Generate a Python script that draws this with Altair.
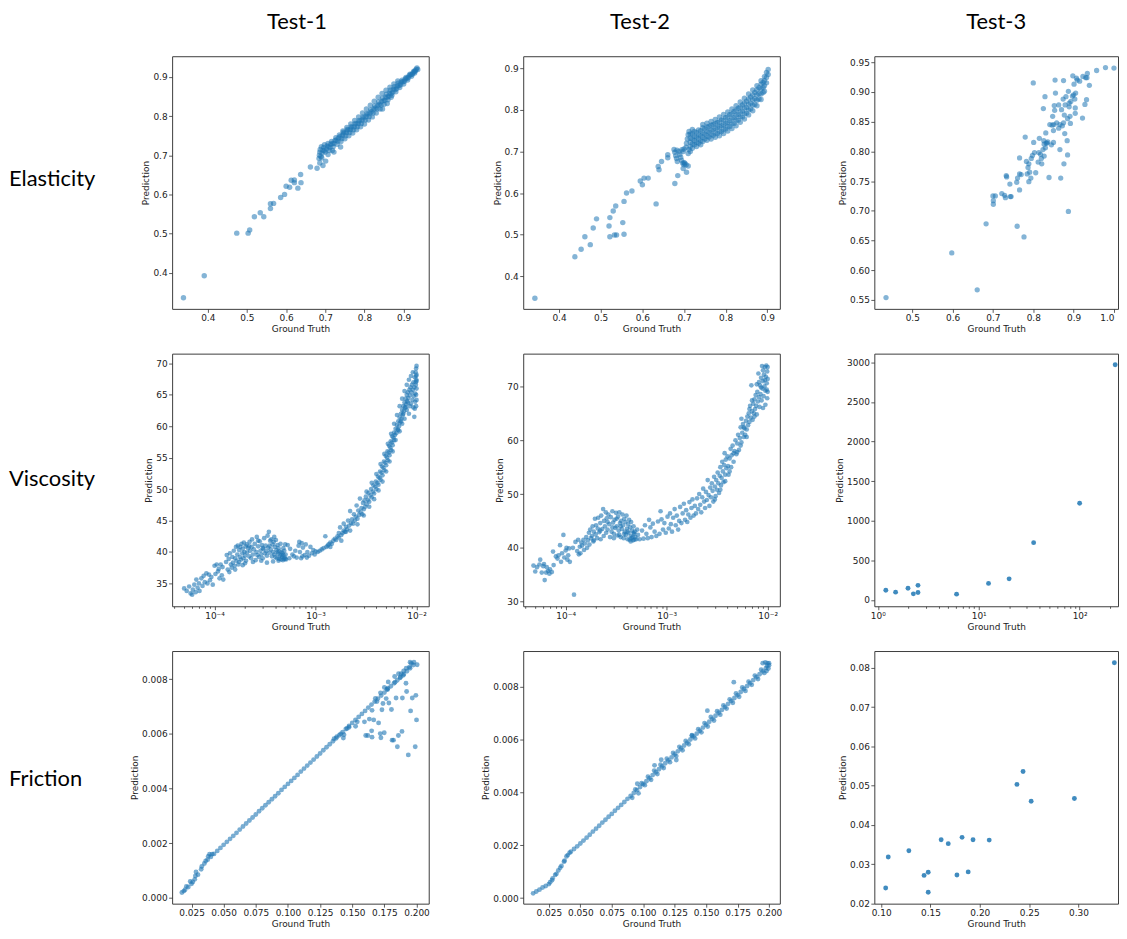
import altair as alt
import pandas as pd

COLUMN_TITLES = ["Test-1", "Test-2", "Test-3"]
ROW_TITLES = ["Elasticity", "Viscosity", "Friction"]
X_TITLE = "Ground Truth"
Y_TITLE = "Prediction"

# ---------------- Elasticity ----------------
ELASTICITY_TEST1 = [
    (0.338, 0.336), (0.391, 0.392), (0.474, 0.501), (0.503, 0.501), (0.507, 0.509), (0.519, 0.543),
    (0.534, 0.553), (0.543, 0.543), (0.560, 0.564), (0.560, 0.576), (0.568, 0.577), (0.586, 0.592),
    (0.596, 0.600), (0.600, 0.621), (0.609, 0.618), (0.613, 0.636), (0.621, 0.637), (0.621, 0.630),
    (0.630, 0.616), (0.637, 0.651), (0.638, 0.630), (0.662, 0.670), (0.679, 0.667), (0.686, 0.680),
    (0.694, 0.674), (0.701, 0.685), (0.707, 0.702), (0.718, 0.712), (0.722, 0.708), (0.739, 0.721),
    (0.691, 0.693),
    (0.684, 0.692), (0.685, 0.700), (0.686, 0.708), (0.687, 0.715), (0.690, 0.722), (0.689, 0.697),
    (0.692, 0.705), (0.694, 0.712), (0.696, 0.720), (0.698, 0.727), (0.700, 0.708), (0.703, 0.716),
    (0.705, 0.724), (0.707, 0.730), (0.710, 0.712), (0.712, 0.720), (0.714, 0.728), (0.716, 0.735),
    (0.720, 0.722), (0.722, 0.730), (0.725, 0.738), (0.727, 0.745), (0.730, 0.728), (0.732, 0.736),
    (0.734, 0.744), (0.736, 0.752), (0.740, 0.735), (0.742, 0.743), (0.744, 0.751), (0.746, 0.759),
    (0.750, 0.742), (0.752, 0.750), (0.754, 0.758), (0.756, 0.766), (0.760, 0.750), (0.762, 0.758),
    (0.764, 0.766), (0.766, 0.773), (0.770, 0.757), (0.772, 0.765), (0.774, 0.773), (0.776, 0.781),
    (0.780, 0.765), (0.782, 0.773), (0.784, 0.781), (0.786, 0.789), (0.790, 0.773), (0.792, 0.781),
    (0.794, 0.790), (0.796, 0.798), (0.800, 0.780), (0.802, 0.790), (0.804, 0.799), (0.806, 0.807),
    (0.810, 0.790), (0.812, 0.799), (0.814, 0.808), (0.816, 0.816), (0.820, 0.798), (0.822, 0.808),
    (0.824, 0.818), (0.826, 0.826), (0.830, 0.808), (0.832, 0.818), (0.834, 0.828), (0.836, 0.836),
    (0.840, 0.818), (0.842, 0.828), (0.844, 0.838), (0.846, 0.846), (0.850, 0.830), (0.852, 0.840),
    (0.854, 0.849), (0.856, 0.856), (0.860, 0.842), (0.862, 0.851), (0.864, 0.859), (0.866, 0.866),
    (0.870, 0.853), (0.872, 0.861), (0.874, 0.869), (0.876, 0.875), (0.880, 0.862), (0.882, 0.870),
    (0.884, 0.877), (0.886, 0.884), (0.890, 0.873), (0.892, 0.880), (0.894, 0.887), (0.896, 0.892),
    (0.900, 0.882), (0.902, 0.889), (0.904, 0.895), (0.906, 0.899), (0.910, 0.892), (0.912, 0.898),
    (0.914, 0.903), (0.916, 0.907), (0.920, 0.902), (0.922, 0.907), (0.924, 0.911), (0.926, 0.915),
    (0.928, 0.910), (0.930, 0.916), (0.932, 0.920), (0.934, 0.923), (0.936, 0.919),
    (0.745, 0.762), (0.755, 0.771), (0.765, 0.780), (0.775, 0.789), (0.785, 0.798), (0.795, 0.808),
    (0.805, 0.818), (0.815, 0.828), (0.825, 0.838), (0.835, 0.848), (0.845, 0.858), (0.855, 0.866),
    (0.865, 0.874), (0.875, 0.882), (0.885, 0.890), (0.846, 0.818), (0.858, 0.832), (0.868, 0.848),
    (0.698, 0.712), (0.708, 0.722), (0.718, 0.730), (0.728, 0.739), (0.738, 0.748), (0.748, 0.756),
    (0.758, 0.764), (0.768, 0.771), (0.778, 0.779), (0.788, 0.787), (0.798, 0.795), (0.808, 0.804),
    (0.818, 0.812), (0.828, 0.821), (0.838, 0.830), (0.848, 0.839), (0.858, 0.848), (0.868, 0.858),
    (0.878, 0.868), (0.888, 0.878), (0.898, 0.888), (0.908, 0.897), (0.918, 0.906), (0.928, 0.914),
]

ELASTICITY_TEST2 = [
    (0.342, 0.347), (0.438, 0.447), (0.453, 0.465), (0.462, 0.495), (0.475, 0.476), (0.482, 0.516),
    (0.490, 0.538), (0.520, 0.521), (0.522, 0.541), (0.522, 0.495), (0.530, 0.557), (0.533, 0.499),
    (0.538, 0.499), (0.536, 0.569), (0.553, 0.529), (0.556, 0.580), (0.556, 0.501), (0.562, 0.600),
    (0.575, 0.605), (0.595, 0.629), (0.600, 0.620), (0.604, 0.636), (0.614, 0.636), (0.633, 0.574),
    (0.638, 0.664), (0.640, 0.656), (0.646, 0.676), (0.661, 0.685), (0.661, 0.692), (0.678, 0.623),
    (0.685, 0.642), (0.698, 0.659), (0.706, 0.650), (0.710, 0.665), (0.700, 0.673),
    (0.676, 0.705), (0.678, 0.698), (0.680, 0.690), (0.682, 0.683), (0.684, 0.676), (0.688, 0.700),
    (0.690, 0.693), (0.692, 0.686), (0.694, 0.679), (0.697, 0.672), (0.700, 0.668), (0.702, 0.672),
    (0.705, 0.668), (0.698, 0.700), (0.700, 0.706), (0.683, 0.703), (0.695, 0.704),
    (0.705, 0.710), (0.706, 0.720), (0.708, 0.730), (0.710, 0.740), (0.712, 0.748), (0.720, 0.753),
    (0.712, 0.705), (0.720, 0.708), (0.730, 0.712), (0.740, 0.716), (0.710, 0.695), (0.715, 0.700),
    (0.715, 0.712), (0.715, 0.722), (0.715, 0.732), (0.715, 0.742),
    (0.725, 0.716), (0.725, 0.726), (0.725, 0.736), (0.725, 0.748),
    (0.735, 0.720), (0.735, 0.730), (0.735, 0.740), (0.735, 0.752),
    (0.745, 0.724), (0.745, 0.734), (0.745, 0.745), (0.745, 0.757), (0.745, 0.765),
    (0.755, 0.727), (0.755, 0.737), (0.755, 0.748), (0.755, 0.759), (0.755, 0.768),
    (0.765, 0.730), (0.765, 0.741), (0.765, 0.752), (0.765, 0.763), (0.765, 0.772),
    (0.775, 0.734), (0.775, 0.745), (0.775, 0.756), (0.775, 0.767), (0.775, 0.777),
    (0.785, 0.738), (0.785, 0.749), (0.785, 0.760), (0.785, 0.771), (0.785, 0.783),
    (0.795, 0.743), (0.795, 0.754), (0.795, 0.765), (0.795, 0.776), (0.795, 0.789),
    (0.805, 0.749), (0.805, 0.760), (0.805, 0.771), (0.805, 0.783), (0.805, 0.795),
    (0.815, 0.755), (0.815, 0.767), (0.815, 0.779), (0.815, 0.791), (0.815, 0.802),
    (0.825, 0.762), (0.825, 0.775), (0.825, 0.787), (0.825, 0.799), (0.825, 0.810),
    (0.835, 0.770), (0.835, 0.783), (0.835, 0.795), (0.835, 0.807), (0.835, 0.819),
    (0.845, 0.778), (0.845, 0.791), (0.845, 0.804), (0.845, 0.816), (0.845, 0.828),
    (0.855, 0.788), (0.855, 0.800), (0.855, 0.813), (0.855, 0.826), (0.855, 0.838),
    (0.865, 0.798), (0.865, 0.811), (0.865, 0.824), (0.865, 0.836), (0.865, 0.848),
    (0.875, 0.810), (0.875, 0.823), (0.875, 0.836), (0.875, 0.848), (0.875, 0.858),
    (0.885, 0.825), (0.885, 0.838), (0.885, 0.850), (0.885, 0.862), (0.885, 0.870),
    (0.893, 0.845), (0.893, 0.858), (0.893, 0.870), (0.893, 0.880),
    (0.898, 0.865), (0.898, 0.878), (0.898, 0.890), (0.902, 0.885), (0.902, 0.897),
    (0.720, 0.718), (0.730, 0.722), (0.740, 0.726), (0.750, 0.730), (0.760, 0.735), (0.770, 0.739),
    (0.780, 0.743), (0.790, 0.748), (0.800, 0.754), (0.810, 0.760), (0.820, 0.767), (0.830, 0.775),
    (0.840, 0.783), (0.850, 0.792), (0.860, 0.802), (0.870, 0.813), (0.880, 0.826), (0.890, 0.842),
    (0.720, 0.742), (0.730, 0.746), (0.740, 0.750), (0.750, 0.755), (0.760, 0.760), (0.770, 0.765),
    (0.780, 0.770), (0.790, 0.776), (0.800, 0.782), (0.810, 0.789), (0.820, 0.796), (0.830, 0.804),
    (0.840, 0.812), (0.850, 0.821), (0.860, 0.831), (0.870, 0.842), (0.880, 0.853), (0.890, 0.866),
    (0.720, 0.730), (0.730, 0.734), (0.740, 0.738), (0.750, 0.742), (0.760, 0.747), (0.770, 0.752),
    (0.780, 0.757), (0.790, 0.762), (0.800, 0.768), (0.810, 0.774), (0.820, 0.781), (0.830, 0.789),
    (0.840, 0.797), (0.850, 0.806), (0.860, 0.816), (0.870, 0.827), (0.880, 0.839), (0.890, 0.854),
]

ELASTICITY_TEST3 = [
    (0.435, 0.554), (0.598, 0.629), (0.661, 0.567), (0.683, 0.678), (0.700, 0.725), (0.701, 0.717),
    (0.701, 0.711), (0.706, 0.725), (0.722, 0.729), (0.729, 0.726), (0.731, 0.722), (0.733, 0.759),
    (0.734, 0.757), (0.742, 0.745), (0.743, 0.724), (0.745, 0.724), (0.759, 0.748), (0.760, 0.674),
    (0.761, 0.755), (0.766, 0.762), (0.766, 0.789), (0.766, 0.735), (0.770, 0.761), (0.777, 0.656),
    (0.780, 0.824), (0.783, 0.783), (0.785, 0.762), (0.787, 0.773), (0.789, 0.749), (0.789, 0.779),
    (0.791, 0.765), (0.794, 0.755), (0.795, 0.788), (0.798, 0.793), (0.800, 0.915), (0.801, 0.815),
    (0.803, 0.798), (0.806, 0.764), (0.812, 0.782), (0.814, 0.798), (0.815, 0.822), (0.818, 0.795),
    (0.820, 0.788), (0.821, 0.779), (0.824, 0.803), (0.825, 0.872), (0.826, 0.818), (0.827, 0.812),
    (0.827, 0.792), (0.829, 0.892), (0.830, 0.806), (0.831, 0.831), (0.832, 0.814), (0.834, 0.814),
    (0.836, 0.816), (0.839, 0.756), (0.841, 0.845), (0.845, 0.811), (0.847, 0.844), (0.848, 0.859),
    (0.850, 0.815), (0.850, 0.835), (0.851, 0.845), (0.852, 0.877), (0.853, 0.869), (0.854, 0.920),
    (0.855, 0.898), (0.858, 0.848), (0.863, 0.878), (0.863, 0.839), (0.866, 0.845), (0.866, 0.803),
    (0.868, 0.755), (0.870, 0.870), (0.872, 0.843), (0.874, 0.888), (0.875, 0.919), (0.875, 0.848),
    (0.876, 0.779), (0.877, 0.861), (0.878, 0.830), (0.879, 0.878), (0.881, 0.892), (0.884, 0.818),
    (0.885, 0.855), (0.885, 0.794), (0.887, 0.901), (0.887, 0.699), (0.889, 0.875), (0.889, 0.881),
    (0.892, 0.847), (0.891, 0.859), (0.893, 0.884), (0.897, 0.893), (0.898, 0.927), (0.900, 0.895),
    (0.901, 0.913), (0.903, 0.888), (0.904, 0.864), (0.904, 0.873), (0.905, 0.898), (0.907, 0.923),
    (0.909, 0.920), (0.915, 0.918), (0.922, 0.856), (0.923, 0.926), (0.928, 0.879), (0.930, 0.924),
    (0.932, 0.887), (0.933, 0.924), (0.934, 0.931), (0.939, 0.911), (0.957, 0.936), (0.979, 0.941),
    (1.000, 0.940),
]

# ---------------- Viscosity ----------------
VISCOSITY_TEST1 = [
    (5.0e-5, 34.2), (5.3e-5, 33.8), (5.6e-5, 34.5), (5.8e-5, 33.4), (6.0e-5, 33.2), (6.1e-5, 34.0),
    (6.3e-5, 34.8), (6.5e-5, 33.6), (6.6e-5, 35.6), (6.8e-5, 34.3), (7.0e-5, 35.0), (7.1e-5, 33.8),
    (7.4e-5, 35.8), (7.6e-5, 34.6), (7.8e-5, 36.2), (8.0e-5, 35.2), (8.3e-5, 36.6), (8.5e-5, 35.0),
    (8.8e-5, 36.4), (9.0e-5, 35.5), (9.3e-5, 36.0), (9.6e-5, 34.8), (1.0e-4, 37.8), (1.02e-4, 36.5),
    (1.05e-4, 38.0), (1.08e-4, 36.9), (1.1e-4, 37.3), (1.12e-4, 35.8), (1.15e-4, 38.0), (1.18e-4, 36.3),
    (1.2e-4, 37.6), (1.22e-4, 35.6),
    (1.3e-4, 38.4), (1.32e-4, 39.5), (1.35e-4, 37.2), (1.38e-4, 38.9), (1.4e-4, 36.8), (1.42e-4, 39.8),
    (1.45e-4, 38.0), (1.48e-4, 37.5), (1.5e-4, 39.2), (1.52e-4, 38.3), (1.55e-4, 40.2), (1.58e-4, 37.8),
    (1.6e-4, 39.0), (1.63e-4, 40.8), (1.65e-4, 38.6), (1.68e-4, 39.6), (1.7e-4, 41.0), (1.72e-4, 38.0),
    (1.75e-4, 40.3), (1.78e-4, 39.2), (1.8e-4, 40.8), (1.83e-4, 38.8), (1.85e-4, 41.3), (1.88e-4, 39.8),
    (1.9e-4, 40.5), (1.93e-4, 39.0), (1.95e-4, 41.5), (1.98e-4, 40.0), (2.0e-4, 39.4), (2.03e-4, 40.9),
    (2.05e-4, 38.6), (2.08e-4, 41.2), (2.1e-4, 39.9), (2.15e-4, 40.6), (2.2e-4, 39.3), (2.22e-4, 41.6),
    (2.25e-4, 40.2), (2.3e-4, 39.0), (2.33e-4, 40.8), (2.35e-4, 42.0), (2.4e-4, 39.6), (2.45e-4, 40.4),
    (2.5e-4, 41.3), (2.55e-4, 38.7), (2.6e-4, 40.0), (2.62e-4, 42.4), (2.65e-4, 39.5), (2.7e-4, 40.9),
    (2.75e-4, 39.2), (2.8e-4, 41.7), (2.85e-4, 40.2), (2.9e-4, 39.6), (2.95e-4, 41.1), (3.0e-4, 39.0),
    (3.05e-4, 40.5), (3.1e-4, 42.2), (3.15e-4, 39.8), (3.2e-4, 41.0), (3.25e-4, 40.1), (3.3e-4, 39.4),
    (3.35e-4, 42.6), (3.4e-4, 40.7), (3.45e-4, 43.2), (3.5e-4, 39.9), (3.55e-4, 41.8), (3.6e-4, 40.4),
    (3.65e-4, 42.0), (3.7e-4, 39.3), (3.75e-4, 41.2), (3.8e-4, 40.0), (3.85e-4, 41.6), (3.9e-4, 39.6),
    (3.95e-4, 40.8), (4.0e-4, 39.2), (4.05e-4, 41.9), (4.1e-4, 40.3), (4.15e-4, 39.0), (4.2e-4, 41.1),
    (4.25e-4, 39.7), (4.3e-4, 40.6), (4.35e-4, 38.9), (4.4e-4, 40.1), (4.45e-4, 39.4), (4.5e-4, 41.3),
    (4.55e-4, 38.8), (4.6e-4, 40.0), (4.65e-4, 39.2), (4.7e-4, 39.8), (4.75e-4, 38.7), (4.8e-4, 39.5),
    (4.85e-4, 38.9), (4.9e-4, 40.2), (4.95e-4, 39.1), (5.0e-4, 41.2), (5.05e-4, 39.6), (5.1e-4, 38.8),
    (2.0e-4, 38.2), (2.4e-4, 38.4), (2.9e-4, 38.6), (3.3e-4, 38.3), (3.8e-4, 38.5), (4.3e-4, 38.6),
    (1.6e-4, 37.2), (1.75e-4, 38.4), (1.9e-4, 37.9), (2.2e-4, 40.9), (2.7e-4, 41.8), (3.0e-4, 40.6),
    (3.5e-4, 41.0), (3.9e-4, 42.4), (4.2e-4, 40.0), (4.6e-4, 39.5), (4.8e-4, 40.6), (5.0e-4, 38.9),
    (5.3e-4, 41.1), (5.6e-4, 40.5), (5.9e-4, 39.6), (6.1e-4, 39.3), (6.5e-4, 39.1), (6.8e-4, 41.0),
    (7.0e-4, 40.0), (7.2e-4, 39.0), (7.5e-4, 40.7), (7.8e-4, 39.5), (8.0e-4, 41.2), (8.3e-4, 40.0),
    (8.6e-4, 39.4), (8.9e-4, 40.8), (9.2e-4, 39.8), (9.5e-4, 40.3), (9.8e-4, 39.6), (5.5e-4, 39.0),
    (6.3e-4, 40.2), (7.4e-4, 39.3), (8.2e-4, 39.1), (6.9e-4, 41.6), (7.3e-4, 41.4),
    (1.0e-3, 40.1), (1.05e-3, 40.0), (1.1e-3, 40.2), (1.15e-3, 40.4), (1.2e-3, 40.6), (1.25e-3, 42.5),
    (1.28e-3, 40.8), (1.32e-3, 41.0), (1.35e-3, 41.2), (1.4e-3, 41.5), (1.45e-3, 41.3), (1.5e-3, 41.8),
    (1.55e-3, 42.1), (1.6e-3, 41.9), (1.65e-3, 42.5), (1.7e-3, 42.3), (1.75e-3, 43.9), (1.8e-3, 42.7),
    (1.85e-3, 43.0), (1.9e-3, 43.4), (1.95e-3, 43.2), (2.0e-3, 44.0), (2.05e-3, 43.6), (2.1e-3, 45.0),
    (2.15e-3, 44.2), (2.2e-3, 46.5), (2.25e-3, 44.6), (1.7e-3, 43.0), (1.9e-3, 44.5), (2.0e-3, 43.2),
    (2.3e-3, 45.2), (2.35e-3, 44.5), (2.4e-3, 46.0), (2.45e-3, 45.0), (2.5e-3, 45.6), (2.55e-3, 47.4),
    (2.6e-3, 45.3), (2.65e-3, 46.6), (2.7e-3, 45.9), (2.75e-3, 48.5), (2.8e-3, 46.3), (2.85e-3, 47.0),
    (2.9e-3, 46.0), (2.95e-3, 47.8), (3.0e-3, 46.8), (3.05e-3, 48.2), (3.1e-3, 47.2), (3.15e-3, 48.8),
    (3.2e-3, 47.6), (3.3e-3, 48.3), (3.35e-3, 49.4), (3.4e-3, 48.0), (3.5e-3, 49.0), (3.55e-3, 50.0),
    (3.6e-3, 48.7), (3.7e-3, 49.6), (3.75e-3, 50.6), (3.8e-3, 49.3), (3.9e-3, 50.4), (3.95e-3, 51.2),
    (4.0e-3, 50.0), (4.1e-3, 51.0), (4.15e-3, 52.0), (4.2e-3, 50.7), (4.3e-3, 51.8), (4.35e-3, 52.8),
    (4.4e-3, 51.5), (4.5e-3, 52.6), (4.55e-3, 53.6), (4.6e-3, 52.2), (4.7e-3, 53.4), (4.75e-3, 54.4),
    (4.8e-3, 53.0), (4.9e-3, 54.2), (4.95e-3, 55.3), (5.0e-3, 53.8), (5.1e-3, 55.0), (5.15e-3, 56.0),
    (5.2e-3, 54.6), (5.3e-3, 55.8), (5.35e-3, 56.9), (5.4e-3, 55.4), (5.5e-3, 56.6), (5.55e-3, 57.6),
    (5.6e-3, 56.2), (5.7e-3, 57.4), (5.75e-3, 58.4), (5.8e-3, 57.0), (5.9e-3, 58.2), (6.0e-3, 57.8),
    (6.0e-3, 59.0), (6.1e-3, 58.6), (6.2e-3, 59.6), (6.3e-3, 58.9), (6.4e-3, 60.2), (6.5e-3, 59.5),
    (6.6e-3, 60.8), (6.7e-3, 60.0), (6.8e-3, 61.4), (6.9e-3, 60.6), (7.0e-3, 62.0), (7.1e-3, 61.2),
    (7.2e-3, 62.6), (7.3e-3, 61.8), (7.4e-3, 63.2), (7.5e-3, 62.4), (7.6e-3, 63.8), (7.7e-3, 63.0),
    (7.8e-3, 64.4), (7.9e-3, 63.5), (8.0e-3, 65.0), (8.1e-3, 64.0), (8.2e-3, 65.4), (8.3e-3, 64.5),
    (8.4e-3, 62.0), (8.5e-3, 65.8), (8.6e-3, 64.9), (8.7e-3, 66.2), (8.8e-3, 63.6), (8.9e-3, 65.4),
    (9.0e-3, 66.6), (9.1e-3, 64.2), (9.2e-3, 65.8), (9.3e-3, 67.0), (9.4e-3, 64.8), (9.5e-3, 66.2),
    (9.6e-3, 67.8), (9.7e-3, 65.2), (9.8e-3, 68.6), (9.85e-3, 66.6), (9.9e-3, 69.2), (9.95e-3, 67.4),
    (1.0e-2, 69.6), (1.0e-2, 68.2), (1.0e-2, 66.0), (9.9e-3, 63.2), (9.6e-3, 62.8), (7.6e-3, 61.2),
    (8.0e-3, 62.6), (6.8e-3, 59.2), (7.2e-3, 60.4), (9.5e-3, 61.5), (9.7e-3, 63.9), (9.9e-3, 65.0),
    (1.0e-2, 64.2), (9.3e-3, 63.0), (9.8e-3, 67.0), (1.0e-2, 67.2), (9.9e-3, 68.0),
    (3.0e-3, 45.8), (3.4e-3, 47.2), (3.8e-3, 48.4), (4.2e-3, 49.8), (4.6e-3, 51.2), (5.0e-3, 52.8),
    (5.4e-3, 54.4), (5.8e-3, 56.0), (6.2e-3, 57.8), (6.6e-3, 59.4), (7.0e-3, 60.8), (7.4e-3, 62.0),
    (7.8e-3, 63.0), (8.2e-3, 63.8), (8.6e-3, 63.2), (2.6e-3, 44.4), (2.2e-3, 43.4), (1.8e-3, 41.8),
    (1.4e-3, 40.8), (3.2e-3, 49.6), (3.6e-3, 51.0), (4.0e-3, 52.4), (4.4e-3, 54.0), (4.8e-3, 55.6),
    (5.2e-3, 57.2), (5.6e-3, 58.8), (6.0e-3, 60.4), (6.4e-3, 61.8), (6.8e-3, 63.2), (7.2e-3, 64.4),
    (7.6e-3, 65.6), (8.0e-3, 66.6), (8.4e-3, 67.4), (8.8e-3, 68.0), (9.2e-3, 68.6),
]

VISCOSITY_TEST2 = [
    (4.8e-5, 36.7), (5.0e-5, 35.6), (5.2e-5, 36.4), (5.5e-5, 36.9), (5.6e-5, 37.8), (5.8e-5, 35.4),
    (6.0e-5, 36.6), (6.1e-5, 37.0), (6.2e-5, 34.0), (6.4e-5, 35.4), (6.5e-5, 36.4), (6.7e-5, 35.7),
    (6.9e-5, 35.2), (7.0e-5, 36.0), (7.3e-5, 35.5), (7.6e-5, 36.8), (7.5e-5, 39.3), (8.0e-5, 38.4),
    (8.3e-5, 38.0), (8.5e-5, 38.6), (8.8e-5, 40.5), (9.0e-5, 37.4), (9.2e-5, 39.0), (9.5e-5, 42.4),
    (9.7e-5, 38.2), (1.0e-4, 39.5), (1.02e-4, 40.0), (1.04e-4, 37.8), (1.06e-4, 38.6), (1.08e-4, 39.9),
    (1.1e-4, 37.4), (1.21e-4, 31.3), (1.18e-4, 40.0), (1.25e-4, 41.1), (1.3e-4, 39.4), (1.33e-4, 41.5),
    (1.35e-4, 38.8), (1.38e-4, 40.2), (1.4e-4, 39.0), (1.43e-4, 41.0), (1.45e-4, 40.4), (1.5e-4, 41.5),
    (1.52e-4, 39.6), (1.55e-4, 40.8), (1.6e-4, 42.0), (1.63e-4, 40.0), (1.66e-4, 41.4), (1.7e-4, 42.8),
    (1.72e-4, 40.6), (1.75e-4, 43.4), (1.78e-4, 41.8), (1.82e-4, 42.2), (1.85e-4, 44.0), (1.88e-4, 41.2),
    (1.9e-4, 43.0), (1.95e-4, 45.4), (1.98e-4, 42.5), (2.0e-4, 44.2), (2.05e-4, 41.8), (2.08e-4, 43.6),
    (2.1e-4, 45.6), (2.15e-4, 42.9), (2.2e-4, 44.6), (2.22e-4, 41.6), (2.25e-4, 46.0), (2.3e-4, 43.5),
    (2.35e-4, 47.2), (2.38e-4, 42.2), (2.4e-4, 45.0), (2.45e-4, 44.0), (2.5e-4, 46.6), (2.52e-4, 42.8),
    (2.55e-4, 45.5), (2.6e-4, 43.4), (2.65e-4, 46.2), (2.7e-4, 44.4), (2.75e-4, 42.0), (2.8e-4, 45.7),
    (2.85e-4, 43.0), (2.9e-4, 46.8), (2.95e-4, 44.7), (3.0e-4, 42.6), (3.05e-4, 45.2), (3.1e-4, 43.7),
    (3.15e-4, 46.5), (3.2e-4, 44.0), (3.25e-4, 42.3), (3.3e-4, 45.8), (3.35e-4, 43.2), (3.4e-4, 46.6),
    (3.45e-4, 44.6), (3.5e-4, 42.0), (3.55e-4, 45.0), (3.6e-4, 43.5), (3.65e-4, 46.2), (3.7e-4, 44.2),
    (3.75e-4, 41.8), (3.8e-4, 45.4), (3.85e-4, 43.0), (3.9e-4, 44.8), (3.95e-4, 42.4), (4.0e-4, 46.0),
    (4.05e-4, 43.6), (4.1e-4, 41.6), (4.15e-4, 44.4), (4.2e-4, 42.8), (4.25e-4, 45.2), (4.3e-4, 41.5),
    (4.35e-4, 43.8), (4.4e-4, 42.2), (4.45e-4, 44.8), (4.5e-4, 41.8), (4.55e-4, 43.2), (4.6e-4, 42.0),
    (4.65e-4, 41.4), (4.7e-4, 44.0), (4.75e-4, 42.6), (4.8e-4, 41.5), (4.85e-4, 43.0), (4.9e-4, 42.0),
    (5.0e-4, 41.6), (5.1e-4, 43.4), (5.2e-4, 42.4),
    (2.6e-4, 44.8), (2.9e-4, 43.8), (3.2e-4, 45.4), (3.5e-4, 44.0), (3.8e-4, 42.6), (4.1e-4, 43.0),
    (4.4e-4, 41.2), (4.7e-4, 42.8), (3.0e-4, 41.8), (3.4e-4, 42.4), (2.2e-4, 43.2), (1.9e-4, 41.4),
    (5.4e-4, 41.6), (5.7e-4, 43.2), (5.9e-4, 41.7), (6.1e-4, 44.2), (6.3e-4, 42.6), (6.5e-4, 41.8),
    (6.7e-4, 45.2), (6.9e-4, 43.8), (7.1e-4, 42.0), (7.3e-4, 44.5), (7.6e-4, 43.0), (7.9e-4, 42.2),
    (8.2e-4, 44.9), (8.5e-4, 42.6), (8.7e-4, 46.8), (8.9e-4, 45.3), (9.2e-4, 43.4), (9.5e-4, 44.6),
    (9.8e-4, 42.8),
    (1.02e-3, 45.8), (1.05e-3, 43.6), (1.08e-3, 46.4), (1.1e-3, 44.4), (1.13e-3, 43.0), (1.16e-3, 45.6),
    (1.2e-3, 47.2), (1.23e-3, 44.2), (1.26e-3, 46.0), (1.3e-3, 43.4), (1.33e-3, 45.0), (1.36e-3, 47.6),
    (1.4e-3, 44.6), (1.44e-3, 46.4), (1.48e-3, 48.2), (1.52e-3, 45.2), (1.56e-3, 47.0), (1.6e-3, 44.8),
    (1.64e-3, 46.2), (1.68e-3, 48.5), (1.72e-3, 45.6), (1.76e-3, 47.4), (1.8e-3, 49.0), (1.85e-3, 46.0),
    (1.9e-3, 47.8), (1.95e-3, 46.4), (2.0e-3, 49.2),
    (2.05e-3, 47.2), (2.1e-3, 50.0), (2.15e-3, 48.0), (2.2e-3, 46.6), (2.25e-3, 49.4), (2.3e-3, 51.0),
    (2.35e-3, 48.6), (2.4e-3, 47.4), (2.45e-3, 50.4), (2.5e-3, 48.9), (2.55e-3, 52.6), (2.6e-3, 49.8),
    (2.65e-3, 47.8), (2.7e-3, 51.2), (2.75e-3, 49.4), (2.8e-3, 52.0), (2.85e-3, 50.6), (2.9e-3, 48.6),
    (2.95e-3, 53.2), (3.0e-3, 51.4), (3.05e-3, 49.6), (3.1e-3, 52.6), (3.15e-3, 50.8), (3.2e-3, 54.0),
    (3.25e-3, 52.0), (3.3e-3, 50.2), (3.35e-3, 53.4), (3.4e-3, 55.0), (3.45e-3, 51.6),
    (3.5e-3, 53.0), (3.55e-3, 56.0), (3.6e-3, 54.2), (3.65e-3, 52.2), (3.7e-3, 55.4), (3.75e-3, 57.6),
    (3.8e-3, 53.6), (3.85e-3, 56.4), (3.9e-3, 54.8), (4.0e-3, 57.0), (4.05e-3, 55.2), (4.1e-3, 53.6),
    (4.2e-3, 56.6), (4.3e-3, 58.4), (4.35e-3, 55.0), (4.4e-3, 57.2), (4.5e-3, 59.0), (4.6e-3, 56.0),
    (4.7e-3, 58.0), (4.8e-3, 60.0), (4.9e-3, 57.4), (5.0e-3, 59.4), (5.1e-3, 61.0), (5.2e-3, 58.2),
    (5.3e-3, 60.4), (5.4e-3, 62.4), (5.5e-3, 59.6), (5.6e-3, 61.4), (5.7e-3, 63.0), (5.8e-3, 60.6),
    (5.9e-3, 62.2), (6.0e-3, 61.0), (5.5e-3, 64.0),
    (6.1e-3, 63.6), (6.2e-3, 62.0), (6.3e-3, 64.4), (6.4e-3, 62.8), (6.5e-3, 65.0), (6.6e-3, 63.4),
    (6.7e-3, 66.4), (6.8e-3, 64.2), (6.9e-3, 70.2), (7.0e-3, 65.4), (7.1e-3, 63.8), (7.2e-3, 66.8),
    (7.3e-3, 65.0), (7.4e-3, 67.6), (7.5e-3, 65.8), (7.6e-3, 68.4), (7.7e-3, 66.4), (7.8e-3, 64.8),
    (7.9e-3, 69.0), (8.0e-3, 67.2), (8.1e-3, 72.4), (8.2e-3, 68.0), (8.3e-3, 66.2), (8.4e-3, 70.2),
    (8.5e-3, 68.6), (8.6e-3, 71.6), (8.7e-3, 67.4), (8.8e-3, 73.8), (8.9e-3, 69.6), (9.0e-3, 71.0),
    (9.1e-3, 68.2), (9.2e-3, 72.2), (9.3e-3, 70.0), (9.4e-3, 73.6), (9.5e-3, 69.2), (9.6e-3, 71.8),
    (9.7e-3, 73.9), (9.8e-3, 70.6), (9.9e-3, 72.8), (1.0e-2, 71.4), (1.0e-2, 69.0), (1.0e-2, 73.6),
    (9.9e-3, 67.8), (9.5e-3, 66.6), (9.0e-3, 66.0),
    (3.0e-3, 49.0), (3.4e-3, 50.8), (3.8e-3, 52.4), (4.2e-3, 54.2), (4.6e-3, 57.6), (5.0e-3, 57.8),
    (5.4e-3, 59.0), (5.8e-3, 62.4), (6.2e-3, 60.6), (6.6e-3, 65.8), (7.0e-3, 67.4), (7.4e-3, 64.4),
    (7.8e-3, 70.4), (8.2e-3, 70.8), (8.6e-3, 69.8), (9.0e-3, 73.0), (9.4e-3, 71.2), (9.8e-3, 69.4),
]

VISCOSITY_TEST3 = [
    (1.20, 123), (1.50, 99), (1.99, 148), (2.25, 78), (2.50, 185), (2.50, 95),
    (6.03, 74), (12.5, 210), (20.0, 267), (35.0, 724), (100.0, 1222), (225.0, 2971),
]

# ---------------- Friction ----------------
FRICTION_TEST1 = [
    (0.0175, 0.00020), (0.0200, 0.00030), (0.0225, 0.00040), (0.0250, 0.00052), (0.0275, 0.00068),
    (0.0300, 0.00085), (0.0325, 0.00105), (0.0350, 0.00126), (0.0375, 0.00140), (0.0400, 0.00150),
    (0.0425, 0.00161), (0.0450, 0.00172), (0.0475, 0.00183), (0.0500, 0.00194), (0.0525, 0.00205),
    (0.0550, 0.00216), (0.0575, 0.00227), (0.0600, 0.00238), (0.0625, 0.00250), (0.0650, 0.00261),
    (0.0675, 0.00272), (0.0700, 0.00283), (0.0725, 0.00294), (0.0750, 0.00305), (0.0775, 0.00317),
    (0.0800, 0.00328), (0.0825, 0.00339), (0.0850, 0.00350), (0.0875, 0.00361), (0.0900, 0.00372),
    (0.0925, 0.00383), (0.0950, 0.00395), (0.0975, 0.00406), (0.1000, 0.00417), (0.1025, 0.00428),
    (0.1050, 0.00439), (0.1075, 0.00450), (0.1100, 0.00462), (0.1125, 0.00473), (0.1150, 0.00484),
    (0.1175, 0.00495), (0.1200, 0.00506), (0.1225, 0.00517), (0.1250, 0.00528), (0.1275, 0.00540),
    (0.1300, 0.00551), (0.1325, 0.00562), (0.1350, 0.00573), (0.1375, 0.00584), (0.1400, 0.00595),
    (0.1425, 0.00606), (0.1450, 0.00618), (0.1475, 0.00629), (0.1500, 0.00640), (0.1525, 0.00651),
    (0.1550, 0.00662), (0.1575, 0.00673), (0.1600, 0.00684), (0.1625, 0.00696), (0.1650, 0.00707),
    (0.1675, 0.00718), (0.1700, 0.00729), (0.1725, 0.00740), (0.1750, 0.00751), (0.1775, 0.00762),
    (0.1800, 0.00774), (0.1825, 0.00785), (0.1850, 0.00796), (0.1875, 0.00807), (0.1900, 0.00818),
    (0.1925, 0.00829), (0.1950, 0.00840), (0.1975, 0.00852),
    (0.0210, 0.00042), (0.0240, 0.00060), (0.0260, 0.00058), (0.0280, 0.00080), (0.0285, 0.00095),
    (0.0330, 0.00115), (0.0360, 0.00135), (0.0380, 0.00152), (0.0390, 0.00160), (0.0410, 0.00160),
    (0.0190, 0.00025),
    (0.1359, 0.00582), (0.1431, 0.00585), (0.1436, 0.00597), (0.1475, 0.00624), (0.1526, 0.00628),
    (0.1539, 0.00644), (0.1595, 0.00644), (0.1605, 0.00594), (0.1621, 0.00594), (0.1633, 0.00654),
    (0.1651, 0.00611), (0.1654, 0.00588), (0.1654, 0.00686), (0.1667, 0.00651), (0.1692, 0.00718),
    (0.1705, 0.00640), (0.1718, 0.00601), (0.1723, 0.00586), (0.1731, 0.00688), (0.1739, 0.00711),
    (0.1749, 0.00604), (0.1764, 0.00729), (0.1769, 0.00763), (0.1777, 0.00767), (0.1785, 0.00713),
    (0.1805, 0.00689), (0.1810, 0.00577), (0.1821, 0.00577), (0.1833, 0.00789), (0.1841, 0.00731),
    (0.1851, 0.00553), (0.1859, 0.00594), (0.1872, 0.00805), (0.1887, 0.00609), (0.1890, 0.00731),
    (0.1897, 0.00814), (0.1918, 0.00785), (0.1923, 0.00755), (0.1936, 0.00523), (0.1944, 0.00844),
    (0.1954, 0.00684), (0.1967, 0.00731), (0.1980, 0.00862), (0.1990, 0.00553), (0.1995, 0.00741),
    (0.2000, 0.00651), (0.2005, 0.00853), (0.1380, 0.00590), (0.1410, 0.00600), (0.1460, 0.00620),
    (0.1680, 0.00730), (0.1720, 0.00750), (0.1750, 0.00770), (0.1780, 0.00790), (0.1830, 0.00810),
    (0.1860, 0.00820), (0.1880, 0.00820), (0.1900, 0.00830), (0.1920, 0.00840), (0.1950, 0.00862),
    (0.1960, 0.00858),
]

FRICTION_TEST2 = [
    (0.0125, 0.00018), (0.0150, 0.00025), (0.0175, 0.00032), (0.0200, 0.00040), (0.0225, 0.00046),
    (0.0250, 0.00053), (0.0275, 0.00068), (0.0300, 0.00088), (0.0325, 0.00105), (0.0350, 0.00122),
    (0.0375, 0.00142), (0.0400, 0.00163), (0.0425, 0.00176), (0.0450, 0.00186), (0.0475, 0.00196),
    (0.0500, 0.00207), (0.0525, 0.00218), (0.0550, 0.00229), (0.0575, 0.00240), (0.0600, 0.00252),
    (0.0625, 0.00263), (0.0650, 0.00274), (0.0675, 0.00286), (0.0700, 0.00297), (0.0725, 0.00308),
    (0.0750, 0.00319), (0.0775, 0.00331), (0.0800, 0.00342), (0.0825, 0.00353), (0.0850, 0.00364),
    (0.0875, 0.00376), (0.0900, 0.00387), (0.0925, 0.00398), (0.0950, 0.00409), (0.0975, 0.00421),
    (0.1000, 0.00432), (0.1025, 0.00443), (0.1050, 0.00454), (0.1075, 0.00466), (0.1100, 0.00477),
    (0.1125, 0.00488), (0.1150, 0.00499), (0.1175, 0.00511), (0.1200, 0.00522), (0.1225, 0.00533),
    (0.1250, 0.00544), (0.1275, 0.00556), (0.1300, 0.00567), (0.1325, 0.00578), (0.1350, 0.00589),
    (0.1375, 0.00601), (0.1400, 0.00612), (0.1425, 0.00623), (0.1450, 0.00634), (0.1475, 0.00646),
    (0.1500, 0.00657), (0.1525, 0.00668), (0.1550, 0.00679), (0.1575, 0.00691), (0.1600, 0.00702),
    (0.1625, 0.00713), (0.1650, 0.00724), (0.1675, 0.00736), (0.1700, 0.00747), (0.1725, 0.00758),
    (0.1750, 0.00769), (0.1775, 0.00781), (0.1800, 0.00792), (0.1825, 0.00803), (0.1850, 0.00814),
    (0.1875, 0.00826), (0.1900, 0.00837), (0.1925, 0.00848), (0.1950, 0.00859), (0.1975, 0.00871),
    (0.2000, 0.00882),
    (0.09125, 0.00380), (0.09375, 0.00412), (0.09625, 0.00397), (0.09875, 0.00435), (0.10125, 0.00428),
    (0.10375, 0.00460), (0.10625, 0.00448), (0.10875, 0.00483), (0.11125, 0.00470), (0.11375, 0.00505),
    (0.11625, 0.00493), (0.11875, 0.00528), (0.12125, 0.00515), (0.12375, 0.00550), (0.12625, 0.00538),
    (0.12875, 0.00573), (0.13125, 0.00560), (0.13375, 0.00595), (0.13625, 0.00583), (0.13875, 0.00617),
    (0.14125, 0.00605), (0.14375, 0.00640), (0.14625, 0.00628), (0.14875, 0.00663), (0.15125, 0.00650),
    (0.15375, 0.00686), (0.15625, 0.00673), (0.15875, 0.00708), (0.16125, 0.00695), (0.16375, 0.00730),
    (0.16625, 0.00718), (0.16875, 0.00753), (0.17125, 0.00740), (0.17375, 0.00775), (0.17625, 0.00763),
    (0.17875, 0.00798), (0.18125, 0.00785), (0.18375, 0.00820), (0.18625, 0.00808), (0.18875, 0.00843),
    (0.19125, 0.00830), (0.19375, 0.00865), (0.19625, 0.00853), (0.19875, 0.00890), (0.19950, 0.00870),
    (0.0953, 0.00433), (0.1090, 0.00503), (0.1143, 0.00524), (0.1263, 0.00523), (0.1510, 0.00710),
    (0.1720, 0.00818), (0.1387, 0.00615), (0.1950, 0.00890), (0.1970, 0.00893), (0.2000, 0.00890),
    (0.1980, 0.00860), (0.1985, 0.00880),
    (0.0280, 0.00075), (0.0310, 0.00092), (0.0340, 0.00115), (0.0370, 0.00138), (0.0390, 0.00158),
    (0.0415, 0.00172), (0.0260, 0.00060),
]

FRICTION_TEST3 = [
    (0.1046, 0.0239), (0.1072, 0.0318), (0.1281, 0.0334), (0.1435, 0.0271), (0.1477, 0.0279),
    (0.1477, 0.0228), (0.1608, 0.0362), (0.1680, 0.0352), (0.1768, 0.0272), (0.1820, 0.0368),
    (0.1882, 0.0280), (0.1931, 0.0362), (0.2095, 0.0361), (0.2376, 0.0503), (0.2438, 0.0536),
    (0.2520, 0.0460), (0.2958, 0.0467), (0.3363, 0.0813),
]

# ---------------- tick positions ----------------
TICKS_04_09 = [0.4, 0.5, 0.6, 0.7, 0.8, 0.9]
TICKS_05_10 = [0.5, 0.6, 0.7, 0.8, 0.9, 1.0]
TICKS_055_095 = [0.55, 0.6, 0.65, 0.7, 0.75, 0.8, 0.85, 0.9, 0.95]
VISC_LOG_TICKS = [4e-5, 5e-5, 6e-5, 7e-5, 8e-5, 9e-5, 1e-4, 2e-4, 3e-4, 4e-4, 5e-4, 6e-4, 7e-4,
                  8e-4, 9e-4, 1e-3, 2e-3, 3e-3, 4e-3, 5e-3, 6e-3, 7e-3, 8e-3, 9e-3, 1e-2]
VISC_LOG_MAJORS = [0.0001, 0.001, 0.01]
VISC_LOG_LABELS = ["10\u207b\u2074", "10\u207b\u00b3", "10\u207b\u00b2"]
VISC3_LOG_TICKS = [1, 2, 3, 4, 5, 6, 7, 8, 9, 10, 20, 30, 40, 50, 60, 70, 80, 90, 100, 200]
VISC3_LOG_MAJORS = [1, 10, 100]
VISC3_LOG_LABELS = ["10\u2070", "10\u00b9", "10\u00b2"]
VISC1_Y = [35, 40, 45, 50, 55, 60, 65, 70]
VISC2_Y = [30, 40, 50, 60, 70]
VISC3_Y = [0, 500, 1000, 1500, 2000, 2500, 3000]
FRIC_X = [0.025, 0.05, 0.075, 0.1, 0.125, 0.15, 0.175, 0.2]
FRIC_Y = [0.0, 0.002, 0.004, 0.006, 0.008]
FRIC3_X = [0.10, 0.15, 0.20, 0.25, 0.30]
FRIC3_Y = [0.02, 0.03, 0.04, 0.05, 0.06, 0.07, 0.08]

BLUE = "#1f77b4"
W, H, W3 = 258, 254, 245
LABEL_W = 69

AXIS = dict(grid=False, domain=False, ticks=True, tickSize=3.5, tickWidth=0.8, tickColor="#333333",
            labelFont="DejaVu Sans", labelFontSize=9, labelColor="#222222", labelPadding=1.5,
            labelOverlap=False, titleFont="DejaVu Sans", titleFontSize=9, titleFontWeight="normal",
            titleColor="#222222", titlePadding=2)


def lin_axis(title, values, fmt, **extra):
    ax = dict(AXIS)
    ax.update(extra)
    return alt.Axis(title=title, values=values, format=fmt, **ax)


def log_axis(title, values, majors, labels):
    expr = " : ".join(f"datum.value == {m} ? '{l}'" for m, l in zip(majors, labels)) + " : ''"
    test = "indexof([" + ",".join(str(m) for m in majors) + "], datum.value) >= 0"
    ax = dict(AXIS)
    ax["tickSize"] = {"condition": {"test": test, "value": 3.5}, "value": 2}
    return alt.Axis(title=title, values=values, labelExpr=expr, **ax)


def panel(points, xdom, ydom, xaxis, yaxis, size, opacity, width=W, xlog=False, header=None, dx=0):
    df = pd.DataFrame(points, columns=["gt", "pred"])
    if xlog:
        xs = alt.Scale(type="log", domain=xdom, nice=False)
    else:
        xs = alt.Scale(domain=xdom, nice=False, zero=False)
    ys = alt.Scale(domain=ydom, nice=False, zero=False)
    ch = alt.Chart(df).mark_circle(size=size, opacity=opacity, color=BLUE, clip=True).encode(
        x=alt.X("gt:Q", scale=xs, axis=xaxis),
        y=alt.Y("pred:Q", scale=ys, axis=yaxis),
    )
    if header is not None:
        hdf = pd.DataFrame({"h": [header]})
        head = alt.Chart(hdf).mark_text(align="center", baseline="alphabetic", font="Lato", fontSize=22,
                                        color="#000000").encode(
            x=alt.value(width / 2 + dx), y=alt.value(-27), text="h:N")
        ch = alt.layer(ch, head)
    return ch.properties(width=width, height=H,
                         view=alt.ViewBackground(stroke="#3c3c3c", strokeWidth=1))


def row_label(text, y):
    df = pd.DataFrame({"label": [text]})
    return alt.Chart(df).mark_text(align="left", baseline="middle", font="Lato", fontSize=22,
                                   color="#000000").encode(
        x=alt.value(0), y=alt.value(y), text="label:N"
    ).properties(width=LABEL_W, height=H, view=alt.ViewBackground(stroke="transparent"))


cells = [
    row_label(ROW_TITLES[0], 123),
    panel(ELASTICITY_TEST1, [0.309, 0.964], [0.3075, 0.953],
          lin_axis(X_TITLE, TICKS_04_09, ".1f"), lin_axis(Y_TITLE, TICKS_04_09, ".1f"),
          30, 0.55, header=COLUMN_TITLES[0], dx=-3.5),
    panel(ELASTICITY_TEST2, [0.314, 0.930], [0.3216, 0.929],
          lin_axis(X_TITLE, TICKS_04_09, ".1f"), lin_axis(Y_TITLE, TICKS_04_09, ".1f"),
          30, 0.55, header=COLUMN_TITLES[1], dx=-11.5),
    panel(ELASTICITY_TEST3, [0.406, 1.01], [0.535, 0.960],
          lin_axis(X_TITLE, TICKS_05_10, ".1f", labelFlush=6), lin_axis(Y_TITLE, TICKS_055_095, ".2f"),
          28, 0.55, width=W3, header=COLUMN_TITLES[2], dx=0),

    row_label(ROW_TITLES[1], 126),
    panel(VISCOSITY_TEST1, [3.8e-5, 1.32e-2], [31.36, 71.56],
          log_axis(X_TITLE, VISC_LOG_TICKS, VISC_LOG_MAJORS, VISC_LOG_LABELS),
          lin_axis(Y_TITLE, VISC1_Y, "d"), 22, 0.6, xlog=True),
    panel(VISCOSITY_TEST2, [3.8e-5, 1.32e-2], [29.14, 76.1],
          log_axis(X_TITLE, VISC_LOG_TICKS, VISC_LOG_MAJORS, VISC_LOG_LABELS),
          lin_axis(Y_TITLE, VISC2_Y, "d"), 22, 0.6, xlog=True),
    panel(VISCOSITY_TEST3, [0.923, 240], [-79, 3111],
          log_axis(X_TITLE, VISC3_LOG_TICKS, VISC3_LOG_MAJORS, VISC3_LOG_LABELS),
          lin_axis(Y_TITLE, VISC3_Y, "d"), 24, 0.85, width=W3, xlog=True),

    row_label(ROW_TITLES[2], 129),
    panel(FRICTION_TEST1, [0.0099, 0.2095], [-0.00021, 0.00903],
          lin_axis(X_TITLE, FRIC_X, ".3f"), lin_axis(Y_TITLE, FRIC_Y, ".3f"), 24, 0.6),
    panel(FRICTION_TEST2, [0.0046, 0.2086], [-0.00021, 0.00936],
          lin_axis(X_TITLE, FRIC_X, ".3f"), lin_axis(Y_TITLE, FRIC_Y, ".3f"), 24, 0.6),
    panel(FRICTION_TEST3, [0.0931, 0.340], [0.0199, 0.0843],
          lin_axis(X_TITLE, FRIC3_X, ".2f"), lin_axis(Y_TITLE, FRIC3_Y, ".2f"), 24, 0.85, width=W3),
]

chart = alt.concat(*cells, columns=4, spacing={"row": 45, "column": 95}, bounds="flush").properties(
    padding=0, background="white"
)

chart.save("out.html", embed_options={"renderer": "svg", "actions": False})
